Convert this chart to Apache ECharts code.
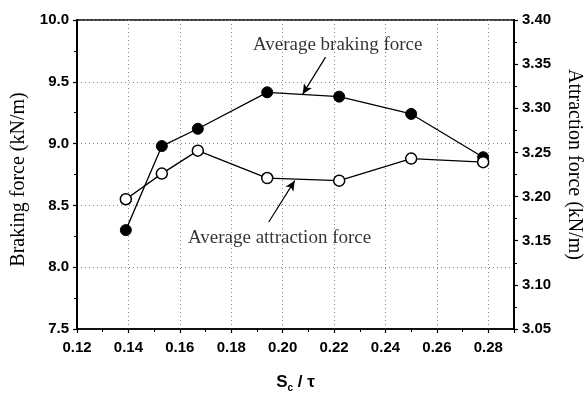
<!DOCTYPE html>
<html>
<head>
<meta charset="utf-8">
<script src="https://cdn.jsdelivr.net/npm/echarts@6/dist/echarts.min.js"></script>
<style>html,body{margin:0;padding:0;background:#fff;}#c{width:586px;height:397px;}</style>
</head>
<body>
<div id="c"></div>
<script>
// Data
const ratio = [0.139, 0.153, 0.167, 0.194, 0.222, 0.250, 0.278];
const brakingForce = [8.30, 8.98, 9.12, 9.415, 9.38, 9.24, 8.89];
const attractionForce = [3.197, 3.226, 3.252, 3.221, 3.218, 3.243, 3.239];
const xTicks = { min: 0.12, max: 0.29, interval: 0.02 };
const yLeftTicks = { min: 7.5, max: 10.0, interval: 0.5 };
const yRightTicks = { min: 3.05, max: 3.40, interval: 0.05 };
const brakingLabel = { text: 'Average braking force', at: [0.2214, 9.80], arrowFrom: [0.2167, 9.70], arrowTo: [0.2078, 9.40] };
const attractionLabel = { text: 'Average attraction force', at: [0.1988, 8.236], arrowFrom: [0.1946, 8.366], arrowTo: [0.2047, 8.70] };

const chart = echarts.init(document.getElementById('c'), null, { renderer: 'canvas' });
const tickFont = { fontFamily: 'Liberation Sans', fontSize: 15, color: '#000', fontWeight: 'bold' };
const serif = 'Liberation Serif';

chart.setOption({
  animation: false,
  backgroundColor: '#fff',
  grid: { left: 77, right: 72, top: 20, bottom: 68, show: true, borderColor: '#000', borderWidth: 1.5, backgroundColor: 'transparent', containLabel: false, outerBoundsMode: 'none' },
  xAxis: {
    type: 'value', min: xTicks.min, max: xTicks.max, interval: xTicks.interval,
    name: '{s|S}{sub|c}{s| / τ}', nameLocation: 'middle', nameGap: 42,
    nameTextStyle: { rich: { s: { fontFamily: 'Liberation Sans', fontWeight: 'bold', fontSize: 17, color: '#000' }, sub: { fontFamily: 'Liberation Sans', fontWeight: 'bold', fontSize: 10, color: '#000', verticalAlign: 'bottom', padding: [12, 0, 0, 0] } } },
    axisLine: { lineStyle: { color: '#000', width: 1.5 } },
    axisTick: { length: 4, lineStyle: { color: '#000', width: 1.2 } },
    minorTick: { show: true, splitNumber: 2, length: 3, lineStyle: { color: '#000', width: 1 } },
    axisLabel: Object.assign({ margin: 11, showMaxLabel: false, formatter: v => v.toFixed(2) }, tickFont),
    splitLine: { show: true, lineStyle: { color: '#888', type: [1, 3], width: 1 } }
  },
  yAxis: [
    {
      type: 'value', min: yLeftTicks.min, max: yLeftTicks.max, interval: yLeftTicks.interval, position: 'left',
      name: 'Braking force (kN/m)', nameLocation: 'middle', nameGap: 48, nameRotate: 90,
      nameTextStyle: { fontFamily: serif, fontSize: 20, color: '#000', padding: [0, 10, 0, 0] },
      axisLine: { show: true, lineStyle: { color: '#000', width: 2 } },
      axisTick: { length: 4, lineStyle: { color: '#000', width: 1.2 } },
      minorTick: { show: true, splitNumber: 2, length: 3, lineStyle: { color: '#000', width: 1 } },
      axisLabel: Object.assign({ margin: 8, formatter: v => v.toFixed(1) }, tickFont),
      splitLine: { show: true, lineStyle: { color: '#888', type: [1, 3], width: 1 } }
    },
    {
      type: 'value', min: yRightTicks.min, max: yRightTicks.max, interval: yRightTicks.interval, position: 'right',
      name: 'Attraction force (kN/m)', nameLocation: 'middle', nameGap: 50, nameRotate: -90,
      nameTextStyle: { fontFamily: serif, fontSize: 20, color: '#000', padding: [0, 20, 0, 0] },
      axisLine: { show: true, lineStyle: { color: '#000', width: 2 } },
      axisTick: { length: 4, lineStyle: { color: '#000', width: 1.2 } },
      minorTick: { show: true, splitNumber: 2, length: 3, lineStyle: { color: '#000', width: 1 } },
      axisLabel: Object.assign({ margin: 8, formatter: v => v.toFixed(2) }, tickFont),
      splitLine: { show: false }
    }
  ],
  series: [
    {
      name: 'Braking', type: 'line', yAxisIndex: 0,
      data: ratio.map((x, i) => [x, brakingForce[i]]),
      symbol: 'circle', symbolSize: 11,
      itemStyle: { color: '#000', borderColor: '#000', borderWidth: 1 },
      lineStyle: { color: '#000', width: 1.3 },
      z: 3,
      markLine: {
        silent: true, symbol: ['none', 'arrow'], symbolSize: [7, 10],
        lineStyle: { color: '#000', width: 1.2, type: 'solid' }, label: { show: false },
        data: [
          [{ coord: brakingLabel.arrowFrom }, { coord: brakingLabel.arrowTo }],
          [{ coord: attractionLabel.arrowFrom }, { coord: attractionLabel.arrowTo }]
        ]
      }
    },
    {
      name: 'Attraction', type: 'line', yAxisIndex: 1,
      data: ratio.map((x, i) => [x, attractionForce[i]]),
      symbol: 'circle', symbolSize: 11,
      itemStyle: { color: '#fff', borderColor: '#000', borderWidth: 1.5 },
      lineStyle: { color: '#000', width: 1.3 },
      z: 4
    },
    {
      name: 'labels', type: 'scatter', yAxisIndex: 0, symbolSize: 0, silent: true,
      data: [
        { value: brakingLabel.at, label: { formatter: brakingLabel.text } },
        { value: attractionLabel.at, label: { formatter: attractionLabel.text } }
      ],
      label: { show: true, position: 'inside', fontFamily: serif, fontSize: 19, color: '#000' }
    }
  ]
});
</script>
</body>
</html>
